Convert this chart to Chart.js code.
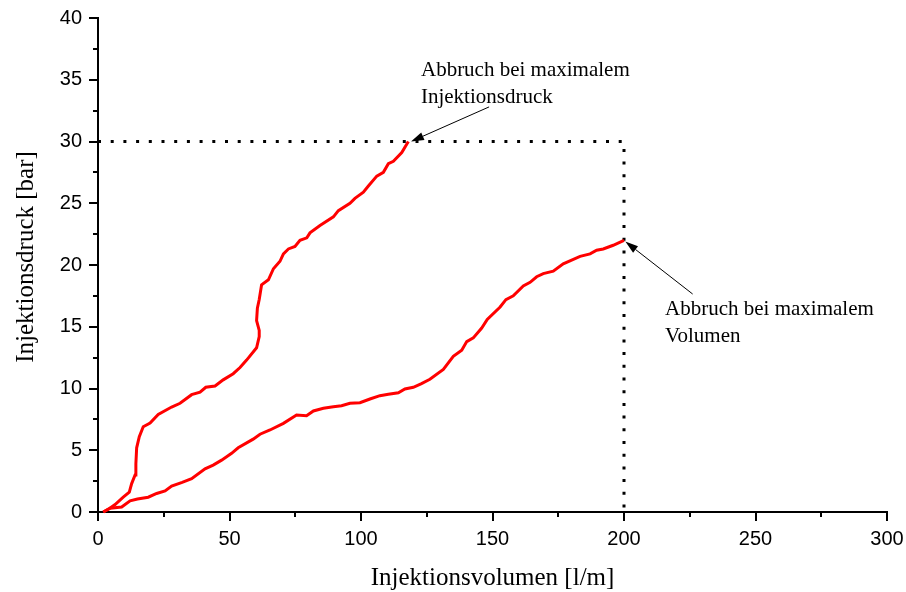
<!DOCTYPE html>
<html>
<head>
<meta charset="utf-8">
<script src="https://cdn.jsdelivr.net/npm/chart.js@4/dist/chart.umd.min.js"></script>
<style>
  html, body { margin: 0; padding: 0; background: #ffffff; }
  #wrap { width: 906px; height: 592px; position: relative; }
</style>
</head>
<body>
<div id="wrap"><canvas id="chart"></canvas></div>
<script>
// Injection run 1: stopped when the maximum injection pressure was reached
const volumeA = [2, 4.5, 6.5, 9.6, 11.9, 12.8, 14.1, 14.4, 14.7, 15.7, 17.2, 19.8, 22.9, 28, 31.2, 35.6, 38.8, 41, 44.5, 47.6,
  51.4, 54, 56.5, 60.3, 61.3, 61.3, 60.3, 60.6, 61.3, 62.2, 64.8, 66.7, 69.2, 70.5, 72.4, 74.9, 76.8, 79.4, 80.6, 84.4,
  89.5, 91.4, 95.8, 97.7, 100.9, 102.8, 106, 108.5, 110.4, 112.3, 115.5, 118];
const pressureA = [0, 0.3, 0.6, 1.2, 1.6, 2.3, 3.0, 3.9, 5.2, 6.1, 6.9, 7.2, 7.9, 8.5, 8.8, 9.5, 9.7, 10.1, 10.2, 10.7,
  11.2, 11.7, 12.3, 13.3, 14.2, 14.7, 15.5, 16.5, 17.2, 18.4, 18.8, 19.7, 20.3, 20.9, 21.3, 21.5, 22.0, 22.2, 22.6, 23.2,
  23.9, 24.4, 25.0, 25.4, 25.9, 26.4, 27.2, 27.5, 28.2, 28.4, 29.1, 30];

// Injection run 2: stopped when the maximum volume was reached
const volumeB = [2, 4.6, 9, 12.2, 15, 19.1, 22.3, 25.5, 28, 32, 35.6, 40.7, 43.8, 47, 50.8, 53.3, 59, 61.6, 65.4, 70.5,
  75.5, 79.3, 81.9, 85.7, 89.5, 92.6, 95.8, 99.6, 103.4, 107.2, 110.4, 114.2, 116.7, 119.9, 123, 126.2, 131.3, 135.1, 138.3, 140.2,
  142.7, 145.9, 148, 152.9, 155.1, 157.9, 161.7, 164.3, 166.8, 169.3, 173.1, 176.9, 183.3, 187.1, 189.6, 192.1, 195.9, 200];
const pressureB = [0, 0.3, 0.4, 0.9, 1.05, 1.2, 1.5, 1.7, 2.1, 2.4, 2.7, 3.5, 3.8, 4.2, 4.75, 5.2, 5.9, 6.3, 6.64, 7.18,
  7.85, 7.8, 8.18, 8.4, 8.53, 8.61, 8.8, 8.85, 9.15, 9.42, 9.53, 9.66, 9.96, 10.1, 10.4, 10.75, 11.55, 12.6, 13.1, 13.8,
  14.1, 14.9, 15.6, 16.6, 17.2, 17.5, 18.3, 18.6, 19.05, 19.3, 19.5, 20.1, 20.7, 20.9, 21.2, 21.3, 21.6, 22];

// Limits of the injection procedure
const maxPressure = 30;   // bar
const maxVolume = 200;    // l/m

// Axis ranges and tick steps
const xRange = [0, 300];
const yRange = [0, 40];
const xMajorStep = 50, xMinorStep = 25;
const yMajorStep = 5, yMinorStep = 2.5;

// Axis titles
const xTitle = 'Injektionsvolumen [l/m]';
const yTitle = 'Injektionsdruck [bar]';

// Callout texts with anchor (x, y) and arrow from tail to tip, in data units
const notes = [
  { lines: ['Abbruch bei maximalem', 'Injektionsdruck'], x: 122.8, y: 35.3, tail: [148.7, 32.8], tip: [119, 30] },
  { lines: ['Abbruch bei maximalem', 'Volumen'], x: 215.6, y: 15.95, tail: [226.1, 17.65], tip: [200.5, 21.9] }
];

const toPoints = (xs, ys) => xs.map((x, i) => ({ x: x, y: ys[i] }));

const SANS = '"Liberation Sans", Arial, sans-serif';
const SERIF = '"Liberation Serif", "Times New Roman", serif';

// Major and minor tick marks pointing outward from both axes
const tickMarks = {
  id: 'tickMarks',
  afterDraw(chart) {
    const { ctx, scales: { x, y } } = chart;
    const area = chart.chartArea;
    ctx.save();
    ctx.strokeStyle = '#000';
    ctx.lineWidth = 2;
    ctx.beginPath();
    for (let v = xRange[0]; v <= xRange[1] + 1e-9; v += xMinorStep) {
      const px = Math.round(x.getPixelForValue(v));
      const len = (Math.abs(v % xMajorStep) < 1e-9) ? 9 : 5;
      ctx.moveTo(px, area.bottom);
      ctx.lineTo(px, area.bottom + len);
    }
    for (let v = yRange[0]; v <= yRange[1] + 1e-9; v += yMinorStep) {
      const py = Math.round(y.getPixelForValue(v));
      const len = (Math.abs(v % yMajorStep) < 1e-9) ? 9 : 5;
      ctx.moveTo(area.left, py);
      ctx.lineTo(area.left - len, py);
    }
    ctx.stroke();
    ctx.restore();
  }
};

// Axis titles in serif type
const axisTitles = {
  id: 'axisTitles',
  afterDraw(chart) {
    const { ctx } = chart;
    const area = chart.chartArea;
    ctx.save();
    ctx.fillStyle = '#000';
    ctx.font = '25px ' + SERIF;
    ctx.textAlign = 'center';
    ctx.textBaseline = 'alphabetic';
    ctx.fillText(xTitle, (area.left + area.right) / 2, 585);
    ctx.translate(33, 257);
    ctx.rotate(-Math.PI / 2);
    ctx.fillText(yTitle, 0, 0);
    ctx.restore();
  }
};

// Callout texts with thin arrows
const callouts = {
  id: 'callouts',
  afterDraw(chart) {
    const { ctx, scales: { x, y } } = chart;
    ctx.save();
    ctx.fillStyle = '#000';
    ctx.strokeStyle = '#000';
    ctx.font = '21px ' + SERIF;
    ctx.textAlign = 'left';
    ctx.textBaseline = 'alphabetic';
    notes.forEach(n => {
      const tx = x.getPixelForValue(n.x);
      const ty = y.getPixelForValue(n.y);
      n.lines.forEach((line, i) => ctx.fillText(line, tx, ty + i * 26.5));

      const x0 = x.getPixelForValue(n.tail[0]), y0 = y.getPixelForValue(n.tail[1]);
      const x1 = x.getPixelForValue(n.tip[0]), y1 = y.getPixelForValue(n.tip[1]);
      const ang = Math.atan2(y1 - y0, x1 - x0);
      const headLen = 13, headHalf = 4;
      const bx = x1 - headLen * Math.cos(ang), by = y1 - headLen * Math.sin(ang);
      ctx.lineWidth = 1;
      ctx.beginPath();
      ctx.moveTo(x0, y0);
      ctx.lineTo(bx, by);
      ctx.stroke();
      ctx.beginPath();
      ctx.moveTo(x1, y1);
      ctx.lineTo(bx + headHalf * Math.sin(ang), by - headHalf * Math.cos(ang));
      ctx.lineTo(bx - headHalf * Math.sin(ang), by + headHalf * Math.cos(ang));
      ctx.closePath();
      ctx.fill();
    });
    ctx.restore();
  }
};

new Chart(document.getElementById('chart'), {
  type: 'line',
  data: {
    datasets: [
      {
        data: toPoints(volumeA, pressureA),
        borderColor: '#ff0000', borderWidth: 3, pointRadius: 0, tension: 0, fill: false, clip: false
      },
      {
        data: toPoints(volumeB, pressureB),
        borderColor: '#ff0000', borderWidth: 3, pointRadius: 0, tension: 0, fill: false, clip: false
      },
      {
        // dotted limit lines: maximum pressure and maximum volume
        data: [{ x: xRange[0], y: maxPressure }, { x: maxVolume, y: maxPressure }, { x: maxVolume, y: yRange[0] }],
        borderColor: '#000', borderWidth: 3, borderDash: [3, 9.7], pointRadius: 0, tension: 0, fill: false
      }
    ]
  },
  options: {
    responsive: true,
    maintainAspectRatio: false,
    animation: false,
    devicePixelRatio: 1,
    layout: { padding: { left: 0, top: 18, right: 19, bottom: 0 } },
    plugins: { legend: { display: false }, tooltip: { enabled: false } },
    scales: {
      x: {
        type: 'linear',
        min: xRange[0], max: xRange[1],
        ticks: { stepSize: xMajorStep, color: '#000', font: { family: SANS, size: 20 }, padding: 15, maxRotation: 0 },
        grid: { display: true, drawOnChartArea: false, drawTicks: false },
        border: { display: true, color: '#000', width: 2 },
        afterFit(scale) { scale.height = 80; scale.paddingLeft = 0; scale.paddingRight = 0; }
      },
      y: {
        type: 'linear',
        min: yRange[0], max: yRange[1],
        ticks: { stepSize: yMajorStep, color: '#000', font: { family: SANS, size: 20 }, padding: 16 },
        grid: { display: true, drawOnChartArea: false, drawTicks: false },
        border: { display: true, color: '#000', width: 2 },
        afterFit(scale) { scale.width = 98; scale.paddingTop = 0; scale.paddingBottom = 0; }
      }
    }
  },
  plugins: [tickMarks, axisTitles, callouts]
});
</script>
</body>
</html>
